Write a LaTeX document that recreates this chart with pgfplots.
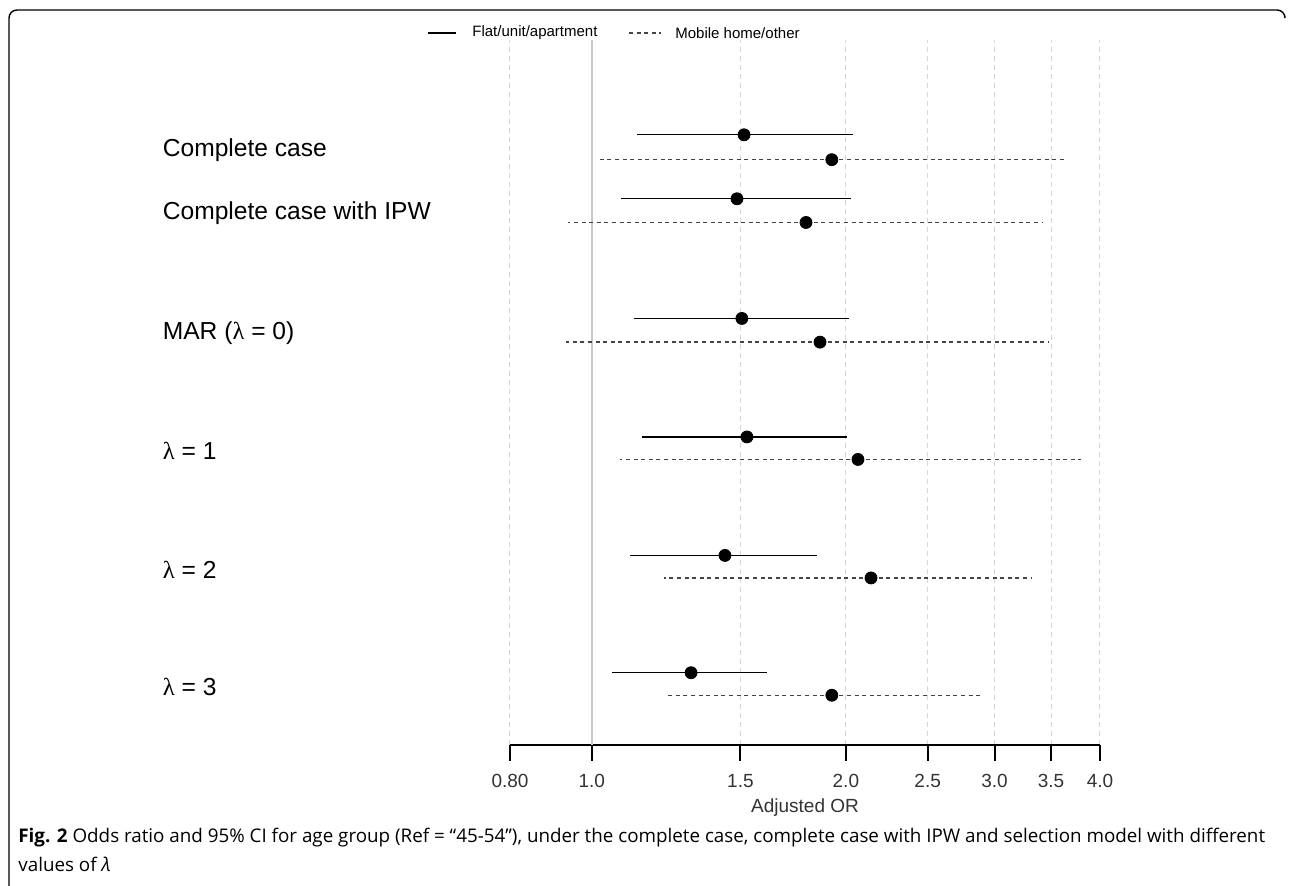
\documentclass[border=0pt]{standalone}
\usepackage{fontspec}
\setmainfont{Liberation Sans}
\newfontfamily\capfont{Open Sans}
\newfontfamily\symfont{Liberation Serif}
\usepackage{pgfplots}
\usepackage{pgfplotstable}
\pgfplotsset{compat=1.18}
\usetikzlibrary{calc}

% rows: y position, lower CI, estimate, upper CI
\pgfplotstableread{
y    lo    est   hi
5.15 1.131 1.515 2.039
4.61 1.083 1.486 2.028
3.60 1.122 1.506 2.017
2.60 1.147 1.527 2.006
1.60 1.110 1.438 1.848
0.61 1.056 1.311 1.613
}\flat
\pgfplotstableread{
y    lo    est   hi
4.94 1.014 1.925 3.656
4.41 0.937 1.794 3.415
3.40 0.932 1.864 3.480
2.41 1.080 2.067 3.798
1.41 1.218 2.142 3.323
0.42 1.224 1.925 2.883
}\mobile

\definecolor{gridgray}{HTML}{D6D6D6}
\definecolor{refgray}{HTML}{C8C8C8}
\definecolor{dashgray}{HTML}{444444}

\begin{document}
\begin{tikzpicture}
\begin{axis}[
  scale only axis,
  width=295pt, height=352.5pt,
  xmode=log,
  xmin=0.8, xmax=4.0,
  ymin=0, ymax=5.95,
  axis x line*=bottom,
  axis y line=none,
  axis line style={line width=1pt, black},
  xtick={0.8,1.0,1.5,2.0,2.5,3.0,3.5,4.0},
  xticklabels={0.80,1.0,1.5,2.0,2.5,3.0,3.5,4.0},
  tick align=outside,
  major tick length=8pt,
  x tick style={line width=1pt, black},
  xticklabel style={font=\fontsize{9.5}{10}\selectfont, text=black!80, yshift=-3pt},
  xlabel={Adjusted OR},
  xlabel style={font=\fontsize{9.5}{10}\selectfont, text=black!80, yshift=1.5pt},
  xmajorgrids,
  grid style={gridgray, line width=0.5pt, dash pattern=on 2.5pt off 2pt},
  clip=false,
]
\addplot[refgray, line width=1pt] coordinates {(1,0) (1,5.95)};

\addplot[only marks, mark=*, mark size=3pt, black,
  error bars/.cd, x dir=both, x explicit, error mark=none,
  error bar style={line width=0.7pt, black}]
  table[x=est, y=y, x error plus expr=\thisrow{hi}-\thisrow{est},
        x error minus expr=\thisrow{est}-\thisrow{lo}] {\flat};
\addplot[only marks, mark=*, mark size=3pt, black,
  error bars/.cd, x dir=both, x explicit, error mark=none,
  error bar style={line width=0.7pt, dashgray, dash pattern=on 2pt off 1.8pt}]
  table[x=est, y=y, x error plus expr=\thisrow{hi}-\thisrow{est},
        x error minus expr=\thisrow{est}-\thisrow{lo}] {\mobile};

\coordinate (O) at (rel axis cs:0,0);

\begin{scope}[every node/.style={anchor=west, inner sep=0pt, font=\fontsize{12.3}{14}\selectfont}]
\node at (axis cs:0.31,5.02) {Complete case};
\node at (axis cs:0.31,4.49) {Complete case with IPW};
\node at (axis cs:0.31,3.48) {MAR ({\symfont λ} = 0)};
\node at (axis cs:0.31,2.48) {{\symfont λ} = 1};
\node at (axis cs:0.31,1.48) {{\symfont λ} = 2};
\node at (axis cs:0.31,0.49) {{\symfont λ} = 3};
\end{scope}
\end{axis}

% legend
\begin{scope}[font=\fontsize{7.5}{9}\selectfont]
\draw[line width=0.7pt] ($(O)+(-41pt,356pt)$) -- ++(14pt,0);
\node[anchor=west, inner sep=0] at ($(O)+(-19pt,356pt)$) {Flat/unit/apartment};
\draw[line width=0.7pt, dashgray, dash pattern=on 2pt off 1.8pt] ($(O)+(59.5pt,356pt)$) -- ++(16pt,0);
\node[anchor=west, inner sep=0] at ($(O)+(82.5pt,356pt)$) {Mobile home/other};
\end{scope}

% frame and caption
\draw[line width=0.7pt, rounded corners=4pt]
  ($(O)+(-250.5pt,-72pt)$) -- ($(O)+(-250.5pt,367.5pt)$) -- ($(O)+(387.5pt,367.5pt)$) -- ++(0,-3pt);
\node[anchor=base west, inner sep=0, font=\capfont\fontsize{9.4}{11}\selectfont] at ($(O)+(-246pt,-48.5pt)$)
  {\textbf{Fig. 2} Odds ratio and 95\% CI for age group (Ref = “45-54”), under the complete case, complete case with IPW and selection model with different};
\node[anchor=base west, inner sep=0, font=\capfont\fontsize{9.4}{11}\selectfont] at ($(O)+(-246pt,-63pt)$)
  {values of \textit{λ}};

\pgfresetboundingbox
\path[use as bounding box] ($(O)+(-255pt,-70pt)$) rectangle ($(O)+(390pt,372.5pt)$);
\end{tikzpicture}
\end{document}
